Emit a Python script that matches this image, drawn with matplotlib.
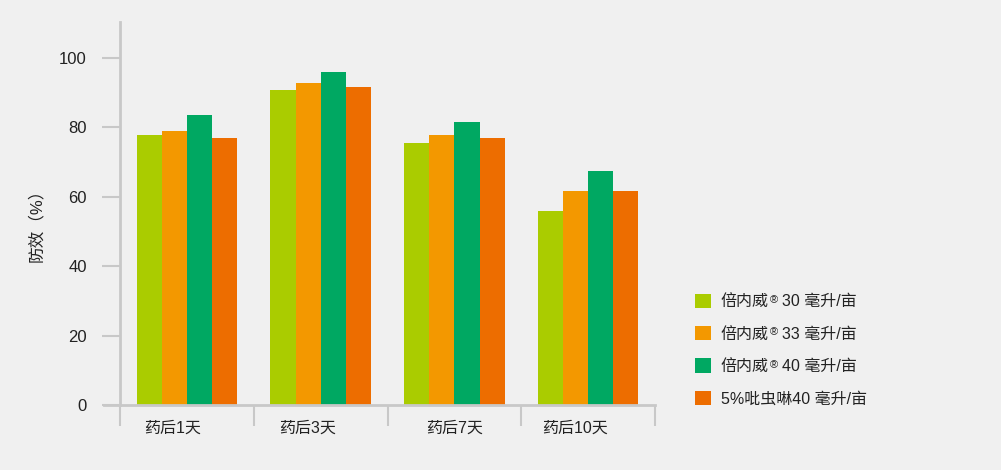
import numpy as np
import matplotlib
matplotlib.use("Agg")
import matplotlib.pyplot as plt
import matplotlib.transforms as mtransforms

plt.rcParams['font.family'] = ['Liberation Sans', 'Noto Sans CJK SC', 'DejaVu Sans']

# data
categories = ['药后1天', '药后3天', '药后7天', '药后10天']
series = ['倍内威® 30 毫升/亩', '倍内威® 33 毫升/亩',
          '倍内威® 40 毫升/亩', '5%吡虫啉40 毫升/亩']
values = [
    [77.9, 90.7, 75.4, 55.8],
    [78.9, 92.7, 77.9, 61.8],
    [83.6, 96.1, 81.7, 67.4],
    [77.1, 91.6, 77.1, 61.8],
]
colors = ['#aacc00', '#f39800', '#00a862', '#ed6d00']
yticks = [0, 20, 40, 60, 80, 100]

bg = '#f0f0f0'
grey = '#c8c8c8'
txt = '#222222'

fig = plt.figure(figsize=(10.01, 4.70), dpi=100, facecolor=bg)
ax = fig.add_axes([104/1001, 1-405/470, (655-104)/1001, 383/470])
ax.set_facecolor(bg)

x = np.arange(len(categories))
w = 0.188
for i, vals in enumerate(values):
    # legend gets the part before ®, the rest is added after it
    lab = series[i].split('®')[0]
    ax.bar(x + (i - 1.5)*w, vals, w, color=colors[i], label=lab, zorder=2)

ax.set_xlim(-0.62, 3.5)
ax.set_ylim(0, 110.4)

for s in ['top', 'right']:
    ax.spines[s].set_visible(False)
ax.spines['left'].set_position(('data', -0.5))
ax.spines['left'].set_color(grey)
ax.spines['left'].set_linewidth(2)
ax.spines['bottom'].set_color(grey)
ax.spines['bottom'].set_linewidth(2)

ax.set_yticks(yticks)
ax.tick_params(axis='y', length=13, width=1.5, color=grey, pad=11,
               labelsize=12, labelcolor=txt)

ax.set_xticks(x)
ax.set_xticklabels(categories)
ax.set_xticks(np.arange(-0.5, len(categories)), minor=True)
ax.tick_params(axis='x', which='major', length=0, pad=11, labelsize=11.5,
               labelcolor=txt)
ax.tick_params(axis='x', which='minor', length=15, width=1.5, color=grey)
# labels in the original sit a bit left of the group centres
for lbl, dx in zip(ax.get_xticklabels(), [-14, -13, 0, -13]):
    lbl.set_transform(lbl.get_transform() +
                      mtransforms.ScaledTranslation(dx/100, 0, fig.dpi_scale_trans))

ax.set_ylabel('防效（%）', fontsize=12, color=txt)
ax.yaxis.set_label_coords(-0.108, 0.48)

leg = fig.legend(loc='center left', bbox_to_anchor=(695/1001, 1-350/470),
                 frameon=False, fontsize=11.5, handlelength=1.0, handleheight=1.0,
                 handletextpad=0.6, labelspacing=1.05, borderpad=0,
                 borderaxespad=0)
for t in leg.get_texts():
    t.set_color(txt)

# superscript ® and the rest of the label after the brand name
fig.canvas.draw()
r = fig.canvas.get_renderer()
W, H = fig.bbox.width, fig.bbox.height
for t, name in zip(leg.get_texts(), series):
    if '®' not in name:
        continue
    rest = name.split('®')[1]
    bb = t.get_window_extent(r)
    reg = fig.text((bb.x1 + 1)/W, (bb.y1 - 1)/H, '®', fontsize=8,
                   color=txt, va='top', ha='left')
    rb = reg.get_window_extent(r)
    fig.text((rb.x1 + 4)/W, (bb.y0 + bb.y1)/2/H, rest.strip(),
             fontsize=t.get_fontsize(), color=txt, va='center', ha='left')

fig.savefig('out.png', dpi=100, facecolor=bg)
